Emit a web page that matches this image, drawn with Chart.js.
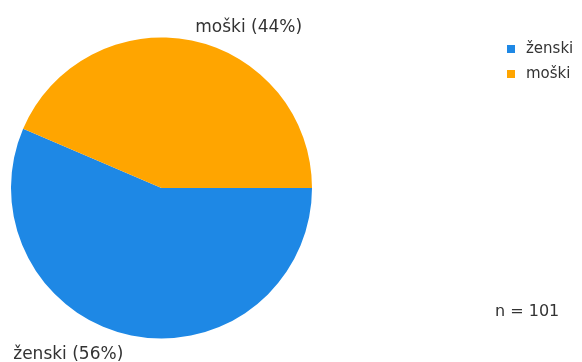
<!DOCTYPE html>
<html>
<head>
<meta charset="utf-8">
<script src="https://cdn.jsdelivr.net/npm/chart.js@4/dist/chart.umd.min.js"></script>
<style>
html,body{margin:0;padding:0;background:#fff;}
#wrap{width:582px;height:362px;position:relative;}
</style>
</head>
<body>
<div id="wrap"><canvas id="c" width="582" height="362"></canvas></div>
<script>
const categories = ["ženski", "moški"];
const counts = [57, 44];
const percentLabels = ["56%", "44%"];
const totalLabel = "n = 101";
const colors = ["#1e88e5", "#ffa500"];

const LABEL_FONT = '17px "DejaVu Sans"';
const LEGEND_FONT = '15px "DejaVu Sans"';
const N_FONT = '16px "DejaVu Sans"';
const TEXT = "#333333";

const labelsPlugin = {
  id: "sliceLabels",
  afterDraw(chart) {
    const ctx = chart.ctx;
    const meta = chart.getDatasetMeta(0);
    ctx.save();
    ctx.font = LABEL_FONT;
    ctx.fillStyle = TEXT;
    ctx.textBaseline = "alphabetic";
    meta.data.forEach((arc, i) => {
      const p = arc.getProps(["x", "y", "startAngle", "endAngle", "outerRadius"], true);
      const mid = (p.startAngle + p.endAngle) / 2;
      const r = p.outerRadius + 10;
      const c = Math.cos(mid), s = Math.sin(mid);
      let x = p.x + r * c, y = p.y + r * s;
      if (c >= 0) { ctx.textAlign = "left"; x += 1.5; } else { ctx.textAlign = "right"; x -= 6; }
      y += (s < 0) ? 1 : 13.5;
      ctx.fillText(categories[i] + " (" + percentLabels[i] + ")", x, y);
    });
    // legend
    ctx.font = LEGEND_FONT;
    ctx.textAlign = "left";
    ctx.textBaseline = "middle";
    categories.forEach((name, i) => {
      const y = 49 + i * 25;
      ctx.fillStyle = colors[i];
      ctx.fillRect(507, y - 4, 8, 8);
      ctx.fillStyle = TEXT;
      ctx.fillText(name, 526, y);
    });
    ctx.font = N_FONT;
    ctx.fillText(totalLabel, 495, 312);
    ctx.restore();
  }
};

new Chart(document.getElementById("c"), {
  type: "pie",
  data: {
    labels: categories,
    datasets: [{
      data: counts,
      backgroundColor: colors,
      borderWidth: 0,
      hoverOffset: 0
    }]
  },
  options: {
    responsive: false,
    animation: false,
    rotation: 90,
    layout: { padding: { left: 11, top: 37, right: 270, bottom: 23 } },
    plugins: {
      legend: { display: false },
      tooltip: { enabled: false }
    }
  },
  plugins: [labelsPlugin]
});
</script>
</body>
</html>
